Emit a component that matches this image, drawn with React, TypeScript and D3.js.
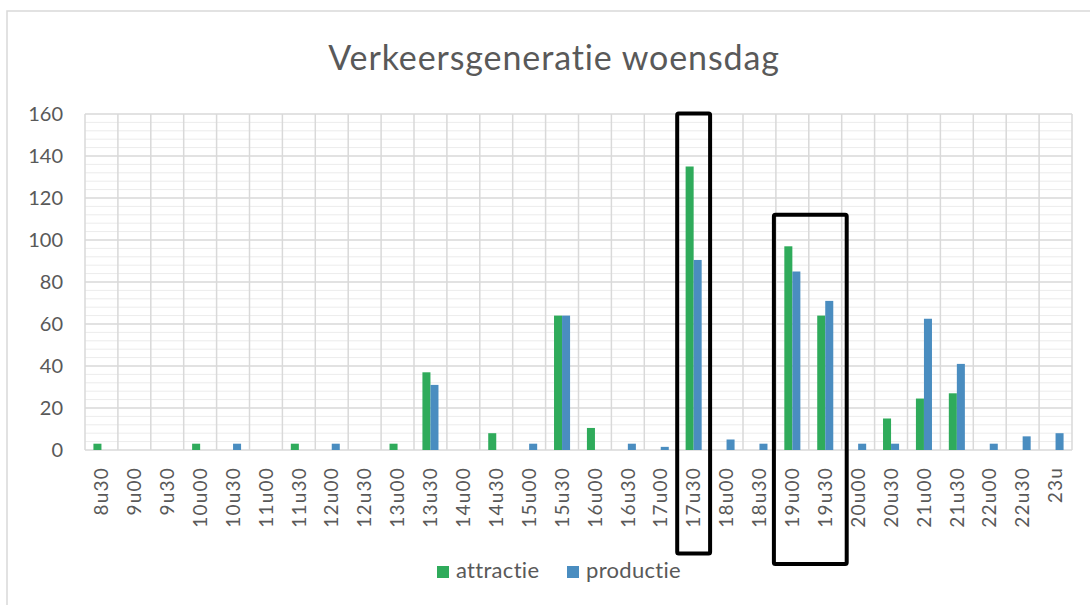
import React, { useEffect, useRef } from "react";
import * as d3 from "d3";

const categories = [
  "8u30", "9u00", "9u30", "10u00", "10u30", "11u00", "11u30", "12u00", "12u30", "13u00",
  "13u30", "14u00", "14u30", "15u00", "15u30", "16u00", "16u30", "17u00", "17u30", "18u00",
  "18u30", "19u00", "19u30", "20u00", "20u30", "21u00", "21u30", "22u00", "22u30", "23u",
];
const attractie = [3, 0, 0, 3, 0, 0, 3, 0, 0, 3, 37, 0, 8, 0, 64, 10.5, 0, 0, 135, 0, 0, 97, 64, 0, 15, 24.5, 27, 0, 0, 0];
const productie = [0, 0, 0, 0, 3, 0, 0, 3, 0, 0, 31, 0, 0, 3, 64, 0, 3, 1.5, 90.5, 5, 3, 85, 71, 3, 3, 62.5, 41, 3, 6.5, 8];
const seriesNames = ["attractie", "productie"];
const seriesColors = ["#2fab5b", "#4a8dc0"];
const yTicks = [0, 20, 40, 60, 80, 100, 120, 140, 160];

const FONT = "Lato, 'Open Sans', sans-serif";

const App = () => {
  const ref = useRef<SVGSVGElement>(null);

  useEffect(() => {
    document.body.style.margin = "0";
    const svg = d3.select(ref.current);
    svg.selectAll("*").remove();

    const W = 1090;
    const H = 605;
    const margin = { top: 114, right: 18, bottom: 155, left: 85 };
    const width = W - margin.left - margin.right;
    const height = H - margin.top - margin.bottom;

    // chart frame
    svg
      .append("rect")
      .attr("x", 7)
      .attr("y", 11)
      .attr("width", W + 10)
      .attr("height", H + 10)
      .attr("fill", "white")
      .attr("stroke", "#d9d9d9")
      .attr("stroke-width", 1.5);

    svg
      .append("text")
      .attr("x", 554)
      .attr("y", 70)
      .attr("text-anchor", "middle")
      .attr("font-family", FONT)
      .attr("font-size", "34px")
      .attr("letter-spacing", "0.9px")
      .attr("fill", "#595959")
      .text("Verkeersgeneratie woensdag");

    const g = svg.append("g").attr("transform", `translate(${margin.left},${margin.top})`);

    const x0 = d3.scaleBand().domain(categories).range([0, width]).paddingInner(0).paddingOuter(0);
    const x1 = d3.scaleBand().domain(seriesNames).range([0, x0.bandwidth()]).paddingOuter(1.05);
    const y = d3.scaleLinear().domain([0, 160]).range([height, 0]);

    // minor gridlines
    const minor = d3.range(0, 161, 4).filter((v) => v % 20 !== 0);
    g.selectAll(".minor")
      .data(minor)
      .join("line")
      .attr("x1", 0)
      .attr("x2", width)
      .attr("y1", (d) => y(d))
      .attr("y2", (d) => y(d))
      .attr("stroke", "#ececec")
      .attr("stroke-width", 1);

    // major gridlines
    g.selectAll(".major")
      .data(yTicks)
      .join("line")
      .attr("x1", 0)
      .attr("x2", width)
      .attr("y1", (d) => y(d))
      .attr("y2", (d) => y(d))
      .attr("stroke", "#d9d9d9")
      .attr("stroke-width", 1.5);

    // vertical category gridlines
    g.selectAll(".vgrid")
      .data([...categories.map((c) => x0(c)!), width])
      .join("line")
      .attr("x1", (d) => d)
      .attr("x2", (d) => d)
      .attr("y1", 0)
      .attr("y2", height)
      .attr("stroke", "#d9d9d9")
      .attr("stroke-width", 1.5);

    // y labels
    g.selectAll(".ylab")
      .data(yTicks)
      .join("text")
      .attr("x", -22)
      .attr("y", (d) => y(d))
      .attr("dy", "0.35em")
      .attr("text-anchor", "end")
      .attr("font-family", FONT)
      .attr("font-size", "20px")
      .attr("fill", "#595959")
      .text((d) => d);

    // x labels
    g.selectAll(".xlab")
      .data(categories)
      .join("text")
      .attr(
        "transform",
        (d) => `translate(${x0(d)! + x0.bandwidth() / 2},${height + 17}) rotate(-90)`
      )
      .attr("dy", "0.35em")
      .attr("text-anchor", "end")
      .attr("font-family", FONT)
      .attr("font-size", "19px")
      .attr("letter-spacing", "1.2px")
      .attr("fill", "#595959")
      .text((d) => d);

    // bars
    const rows = categories.map((c, i) => ({ c, values: [attractie[i], productie[i]] }));
    const groups = g
      .selectAll(".grp")
      .data(rows)
      .join("g")
      .attr("transform", (d) => `translate(${x0(d.c)},0)`);
    groups
      .selectAll("rect")
      .data((d) => d.values.map((v, k) => ({ k, v })))
      .join("rect")
      .attr("x", (d) => x1(seriesNames[d.k])!)
      .attr("width", x1.bandwidth())
      .attr("y", (d) => y(d.v))
      .attr("height", (d) => y(0) - y(d.v))
      .attr("fill", (d) => seriesColors[d.k]);

    // annotation boxes
    const box1x = x0("17u30")!;
    g.append("rect")
      .attr("x", box1x)
      .attr("y", y(160) - 0.5)
      .attr("width", x0.bandwidth())
      .attr("height", 440)
      .attr("fill", "none")
      .attr("stroke", "#000")
      .attr("stroke-width", 4)
      .attr("rx", 1.5);

    const box2x = x0("19u00")! - 2;
    g.append("rect")
      .attr("x", box2x)
      .attr("y", y(112))
      .attr("width", x0("19u30")! + x0.bandwidth() + 5 - box2x)
      .attr("height", 564 - margin.top - y(112))
      .attr("fill", "none")
      .attr("stroke", "#000")
      .attr("stroke-width", 4)
      .attr("rx", 1.5);

    // legend
    const legend = svg.append("g").attr("transform", "translate(437,566)");
    const items = [
      { name: seriesNames[0], color: seriesColors[0], x: 0 },
      { name: seriesNames[1], color: seriesColors[1], x: 130 },
    ];
    items.forEach((it) => {
      legend
        .append("rect")
        .attr("x", it.x)
        .attr("y", 0)
        .attr("width", 12)
        .attr("height", 12)
        .attr("fill", it.color);
      legend
        .append("text")
        .attr("x", it.x + 19)
        .attr("y", 12)
        .attr("font-family", FONT)
        .attr("font-size", "22px")
        .attr("letter-spacing", "0.3px")
        .attr("fill", "#595959")
        .text(it.name);
    });
  }, []);

  return (
    <svg
      ref={ref}
      width={1090}
      height={605}
      style={{ position: "absolute", left: 0, top: 0, display: "block", background: "white" }}
    />
  );
};

export default App;
